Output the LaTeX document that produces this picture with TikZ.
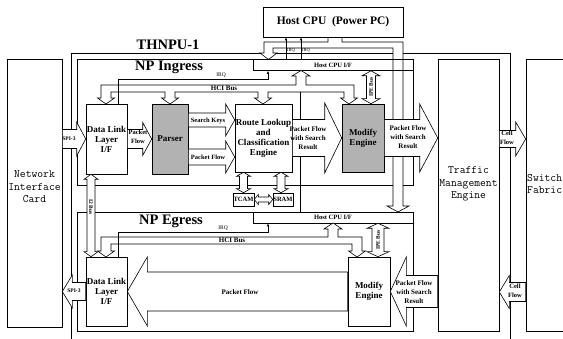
\documentclass[tikz,border=0pt]{standalone}
\usepackage{fontspec}
\setmainfont{Liberation Serif}
\usepackage{tikz}
\usetikzlibrary{arrows.meta,calc}
\usepackage{xcolor}

\definecolor{engine}{gray}{0.7}
\newcommand{\blkfont}{\fontsize{9}{10}\selectfont\bfseries}
\newcommand{\flowfont}{\fontsize{6.5}{8.5}\selectfont\bfseries}
\newcommand{\pfwfont}{\fontsize{7}{9}\selectfont\bfseries}
\newcommand{\irqfont}{\fontsize{5.5}{6}\selectfont}
\newcommand{\titlefont}{\fontsize{14.5}{16}\selectfont\bfseries}
\newcommand{\hostfont}{\fontsize{11.5}{13}\selectfont\bfseries}
\newcommand{\bigfont}{\fontsize{11.3}{12.5}\selectfont\ttfamily}

% block arrows: #1 tail, #2 tip, #3 half body, #4 half head, #5 head length
\newcommand{\rflow}[5]{%
  \draw[flow] ($(#1)+(0,-#3)$) -- ($(#2)+(-#5,-#3)$) -- ($(#2)+(-#5,-#4)$) -- (#2)
    -- ($(#2)+(-#5,#4)$) -- ($(#2)+(-#5,#3)$) -- ($(#1)+(0,#3)$) -- cycle;}
\newcommand{\lflow}[5]{%
  \draw[flow] ($(#1)+(0,-#3)$) -- ($(#2)+(#5,-#3)$) -- ($(#2)+(#5,-#4)$) -- (#2)
    -- ($(#2)+(#5,#4)$) -- ($(#2)+(#5,#3)$) -- ($(#1)+(0,#3)$) -- cycle;}
% two-headed: vertical (#1 top, #2 bottom) and horizontal (#1 left, #2 right)
\newcommand{\vflow}[5]{%
  \draw[flow] (#1) -- ($(#1)+(#4,#5)$) -- ($(#1)+(#3,#5)$) -- ($(#2)+(#3,-#5)$) -- ($(#2)+(#4,-#5)$) -- (#2)
    -- ($(#2)+(-#4,-#5)$) -- ($(#2)+(-#3,-#5)$) -- ($(#1)+(-#3,#5)$) -- ($(#1)+(-#4,#5)$) -- cycle;}
\newcommand{\hflow}[5]{%
  \draw[flow] (#1) -- ($(#1)+(#5,-#4)$) -- ($(#1)+(#5,-#3)$) -- ($(#2)+(-#5,-#3)$) -- ($(#2)+(-#5,-#4)$) -- (#2)
    -- ($(#2)+(-#5,#4)$) -- ($(#2)+(-#5,#3)$) -- ($(#1)+(#5,#3)$) -- ($(#1)+(#5,#4)$) -- cycle;}

\begin{document}
\begin{tikzpicture}[x=1pt,y=-1pt,>={Latex[length=3pt,width=2.6pt]},
    wire/.style={line width=0.6pt},
    blk/.style={draw,wire,fill=white,inner sep=0pt,align=center,font=\blkfont},
    eng/.style={blk,fill=engine},
    bigbox/.style={draw,wire,inner sep=0pt},
    bigtext/.style={inner sep=0pt,align=center,font=\bigfont},
    ifbox/.style={draw,wire,inner sep=0pt,font=\flowfont},
    flow/.style={draw,wire,fill=white,line join=miter},
    lbl/.style={inner sep=0pt,align=center,font=\flowfont},
    heading/.style={inner sep=0pt,font=\titlefont}]
    \useasboundingbox (0,0) rectangle (563,339);
    \clip (0,0) rectangle (563,339);
    % Cards outside the board
    \node[bigbox,minimum width=55pt,minimum height=268pt] (nic) at (34.5,193) {};
    \node[bigtext] (nictxt) at (34.5,187) {Network\\Interface\\Card};
    \node[bigbox,minimum width=61pt,minimum height=272pt] (tme) at (468.5,195) {};
    \node[bigtext] (tmetxt) at (468.5,184) {Traffic\\Management\\Engine};
    \node[bigbox,minimum width=94pt,minimum height=272pt] (sf) at (573,195) {};
    \node[bigtext,anchor=west] (sftxt) at (527,184) {Switch\\Fabric};
    % THNPU-1 board and its two processors
    \draw[wire] (71,339) -- (71,53) -- (510,53) -- (510,339);
    \node[heading] (board) at (168,45) {THNPU-1};
    \node[bigbox,minimum width=336pt,minimum height=125.5pt] (ing) at (245,122.25) {};
    \node[bigbox,minimum width=336pt,minimum height=119pt] (egr) at (245,271.5) {};
    \node[heading] (ingtxt) at (169,67) {NP Ingress};
    \node[heading] (egrtxt) at (171,221) {NP Egress};
    \draw[wire] (300,92) -- (300,212);
    % Host CPU and its bus
    \draw[flow] (328,37) -- (328,42) -- (264,42) -- (264,53) -- (260,53) -- (268.5,59.5) -- (277,53)
        -- (273,53) -- (273,48) -- (393,48) -- (393,206) -- (387,206) -- (398,212) -- (409,206)
        -- (403,206) -- (403,42) -- (342,42) -- (342,37);
    \node[blk,font=\hostfont,minimum width=140pt,minimum height=30pt] (host) at (333,22) {Host CPU~ (Power PC)};
    \node[ifbox,minimum width=160pt,minimum height=11pt] (hifA) at (333,65) {Host CPU I/F};
    \node[ifbox,minimum width=160pt,minimum height=11pt] (hifB) at (333,217.5) {Host CPU I/F};
    % Engines
    \node[blk,minimum width=41pt,minimum height=70pt] (dllA) at (106.5,139) {Data Link\\Layer\\I/F};
    \node[eng,minimum width=36pt,minimum height=70pt] (parser) at (170,139) {Parser};
    \node[blk,minimum width=57pt,minimum height=68pt] (route) at (263.5,138) {Route Lookup\\and\\Classification\\Engine};
    \node[eng,minimum width=42pt,minimum height=68pt] (modA) at (363,138) {Modify\\Engine};
    \node[blk,font=\flowfont,minimum width=21pt,minimum height=13pt] (tcam) at (243.5,199.5) {TCAM};
    \node[blk,font=\flowfont,minimum width=20pt,minimum height=13pt] (sram) at (283,199.5) {SRAM};
    \node[blk,minimum width=41pt,minimum height=69pt] (dllB) at (106.5,291.5) {Data Link\\Layer\\I/F};
    \node[blk,minimum width=42pt,minimum height=69pt] (modB) at (369,291.5) {Modify\\Engine};
    % HCI buses
    \draw[flow] (101,85) -- (296,85) -- (296,76) -- (292,76) -- (301,70.5) -- (310,76) -- (306,76)
        -- (306,85) -- (354,85) -- (354,98) -- (357.5,98) -- (349,104) -- (340.5,98) -- (344,98)
        -- (344,92) -- (268,92) -- (268,98) -- (271.5,98) -- (263,104) -- (254.5,98) -- (258,98)
        -- (258,92) -- (175,92) -- (175,98) -- (178.5,98) -- (170,104) -- (161.5,98) -- (165,98)
        -- (165,92) -- (111,92) -- (111,98) -- (114.5,98) -- (106,104) -- (97.5,98) -- (101,98) -- cycle;
    \draw[flow] (101,237) -- (328,237) -- (328,229) -- (324,229) -- (333,223) -- (342,229) -- (338,229)
        -- (338,237) -- (362,237) -- (362,251) -- (365.5,251) -- (357,257) -- (348.5,251) -- (352,251)
        -- (352,244) -- (111,244) -- (111,251) -- (114.5,251) -- (106,257) -- (97.5,251) -- (101,251) -- cycle;
    \node[lbl,font=\pfwfont] (hciA) at (224,88.5) {HCI Bus};
    \node[lbl,font=\pfwfont] (hciB) at (232,240.5) {HCI Bus};
    % IRQ lines
    \coordinate (irqA) at (268,79);
    \coordinate (irqB) at (268,232);
    \draw[wire,->] ($(dllA.north)+(11.5,0)$) |- (irqA) -- (irqA |- hifA.south);
    \draw[wire,->] ($(dllB.north)+(11.5,0)$) |- (irqB) -- (irqB |- hifB.south);
    \node[inner sep=0pt,font=\irqfont] (irqAtxt) at (221,75.5) {IRQ};
    \node[inner sep=0pt,font=\irqfont] (irqBtxt) at (223,228.5) {IRQ};
    \coordinate (q1) at (286,59.5);
    \coordinate (q2) at (301,59.5);
    \draw[wire,->] (q1) -- (q1 |- host.south);
    \draw[wire,->] (q2) -- (q2 |- host.south);
    \node[inner sep=0pt,anchor=west,font=\fontsize{4.5}{5}\selectfont] (q1txt) at (287,50.5) {IRQ};
    \node[inner sep=0pt,anchor=west,font=\fontsize{4.5}{5}\selectfont] (q2txt) at (302,50.5) {IRQ};
    % Two-headed buses
    \coordinate (i2A) at ($(dllA.south)+(-15.5,0)$);
    \coordinate (i2B) at (i2A |- dllB.north);
    \vflow{i2A}{i2B}{4}{7}{5}
    \node[lbl,rotate=-90,font=\fontsize{5.5}{6}\selectfont\bfseries] (i2txt) at (91,207) {I2 Bus};
    \coordinate (ipeA2) at ($(modA.north)+(8,0)$);
    \coordinate (ipeA1) at (ipeA2 |- hifA.south);
    \vflow{ipeA1}{ipeA2}{4.5}{9}{5}
    \node[lbl,rotate=90,font=\fontsize{5.5}{6}\selectfont\bfseries] (ipeAtxt) at (371,87) {IPE Bus};
    \coordinate (ipeB2) at ($(modB.north)+(9,0)$);
    \coordinate (ipeB1) at (ipeB2 |- hifB.south);
    \vflow{ipeB1}{ipeB2}{6}{11}{5}
    \node[lbl,rotate=90,font=\fontsize{5.5}{6}\selectfont\bfseries] (ipeBtxt) at (378,240) {IPE Bus};
    \coordinate (tc2) at (tcam.north);
    \coordinate (tc1) at (route.south -| tc2);
    \vflow{tc1}{tc2}{4}{7}{4}
    \coordinate (sr2) at ($(sram.north)+(-2,0)$);
    \coordinate (sr1) at (route.south -| sr2);
    \vflow{sr1}{sr2}{4}{7}{4}
    \hflow{tcam.east}{sram.west}{2.5}{5}{4}
    % Packet and cell flows, ingress
    \coordinate (spiA) at (nic.east |- dllA.west);
    \rflow{spiA}{dllA.west}{9.5}{17}{9}
    \node[lbl,font=\fontsize{5.5}{6}\selectfont\bfseries] (spiAtxt) at (69,139) {SPI-3};
    \rflow{dllA.east}{parser.west}{9.5}{16.5}{9}
    \node[lbl] (pfAtxt) at (138,137) {Packet\\Flow};
    \coordinate (skA) at ($(parser.east)+(0,-19)$);
    \coordinate (skB) at (route.west |- skA);
    \rflow{skA}{skB}{7}{16}{9}
    \node[lbl] (sktxt) at (208,121) {Search Keys};
    \coordinate (pfB) at ($(parser.east)+(0,18)$);
    \coordinate (pfC) at (route.west |- pfB);
    \rflow{pfB}{pfC}{8}{16}{9}
    \node[lbl] (pfBtxt) at (208,157) {Packet Flow};
    \rflow{route.east}{modA.west}{18.5}{35}{17}
    \node[lbl,font=\pfwfont] (srAtxt) at (308,138) {Packet Flow\\with Search\\Result};
    \coordinate (srOut) at (tme.west |- modA.east);
    \rflow{modA.east}{srOut}{18.5}{34}{18}
    \node[lbl,font=\pfwfont] (srBtxt) at (408,137) {Packet Flow\\with Search\\Result};
    \coordinate (cellA) at (tme.east |- 0,139);
    \coordinate (cellA2) at (sf.west |- cellA);
    \rflow{cellA}{cellA2}{8.5}{17}{10}
    \node[lbl] (cellAtxt) at (507,138) {Cell\\Flow};
    % Packet and cell flows, egress
    \coordinate (cellB) at (sf.west |- 0,292);
    \coordinate (cellB2) at (tme.east |- cellB);
    \lflow{cellB}{cellB2}{9.5}{16.5}{10}
    \node[lbl] (cellBtxt) at (515,291) {Cell\\Flow};
    \coordinate (srIn) at (tme.west |- modB.east);
    \lflow{srIn}{modB.east}{16}{34.5}{16}
    \node[lbl,font=\pfwfont] (srCtxt) at (414,292) {Packet Flow\\with Search\\Result};
    \lflow{modB.west}{dllB.east}{19.5}{34.5}{20}
    \node[lbl,font=\pfwfont] (pfDtxt) at (240,292) {Packet Flow};
    \coordinate (spiB) at (nic.east |- dllB.west);
    \lflow{dllB.west}{spiB}{9}{16.5}{10}
    \node[lbl,font=\fontsize{5.5}{6}\selectfont\bfseries] (spiBtxt) at (74,291) {SPI-3};
\end{tikzpicture}
\end{document}
